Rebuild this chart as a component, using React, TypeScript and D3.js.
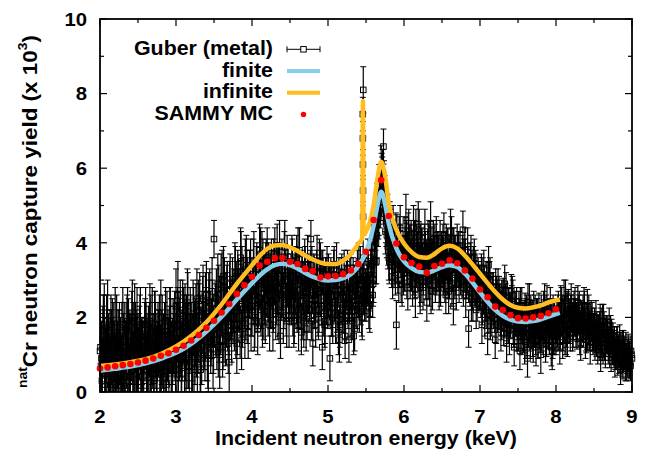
import React from 'react';
import * as d3 from 'd3';

const W = 646;
const H = 458;
const PLOT = { left: 100, right: 632, top: 19, bottom: 392 };

// Guber (metal) capture yield, channels every 0.025 keV starting at 2 keV
const guberStart = 2.0;
const guberStep = 0.025;
const guberYield = [
  1.1, 0.3, 1.5, 0.8, 1.9, 0.5, 1.2, 0.2, 1.6, 0.9,
  1.3, 0.6, 1.8, 0.1, 1.0, 1.5, 0.4, 2.0, 0.9, 1.2,
  0.7, 1.6, 1.1, 0.3, 1.9, 0.8, 1.4, 0.5, 1.2, 1.7,
  0.6, 1.3, 2.0, 0.9, 1.5, 0.2, 1.1, 1.8, 0.7, 1.4,
  2.3, 2.6, 1.6, 0.5, 1.9, 1.2, 2.4, 0.7, 1.5, 2.1,
  1.1, 2.5, 1.7, 0.6, 2.2, 1.4, 2.6, 0.9, 1.9, 2.7,
  4.1, 1.8, 2.9, 1.0, 2.3, 3.1, 1.5, 2.7, 0.8, 2.4,
  2.0, 3.2, 1.3, 2.8, 3.6, 1.9, 2.5, 3.4, 1.6, 3.0,
  2.2, 3.5, 2.7, 1.7, 3.8, 2.4, 3.1, 2.0, 3.6, 2.6,
  3.0, 1.8, 3.7, 2.5, 3.3, 1.5, 2.9, 3.6, 2.2, 3.2,
  2.6, 3.5, 1.9, 3.0, 2.4, 3.8, 1.6, 2.8, 3.3, 2.1,
  2.9, 4.1, 1.3, 2.5, 3.2, 2.0, 3.5, 1.2, 2.7, 3.0,
  2.3, 0.9, 2.9, 3.3, 1.9, 2.6, 1.4, 3.1, 2.2, 1.5,
  2.7, 1.4, 3.2, 2.4, 1.7, 3.0, 2.5, 3.4, 2.0, 3.1,
  2.4, 3.5, 2.1, 3.9, 3.0, 4.4, 5.0, 5.5, 6.0, 5.3,
  4.9, 4.2, 3.6, 4.3, 3.1, 3.8, 1.8, 3.4, 4.4, 2.9,
  3.6, 4.6, 2.8, 3.9, 3.3, 4.4, 2.6, 3.7, 4.2, 3.0,
  2.8, 4.3, 2.4, 3.9, 4.5, 2.7, 3.6, 4.2, 3.3, 4.0,
  3.4, 4.2, 2.6, 3.8, 3.1, 4.1, 2.3, 3.6, 3.9, 2.9,
  3.5, 4.35, 3.8, 3.0, 1.7, 3.4, 2.7, 3.6, 2.2, 3.1,
  2.9, 1.8, 3.3, 2.4, 1.5, 3.0, 2.2, 2.7, 1.4, 2.5,
  2.6, 1.6, 2.1, 2.9, 1.3, 2.3, 1.9, 2.6, 1.2, 2.0,
  1.8, 1.1, 2.3, 1.5, 2.0, 0.9, 2.4, 1.6, 1.3, 2.1,
  1.7, 2.2, 1.0, 1.9, 2.4, 1.4, 1.8, 2.3, 1.1, 2.0,
  1.5, 2.1, 1.2, 2.3, 1.8, 2.5, 1.4, 2.0, 2.4, 1.7,
  2.3, 1.6, 2.1, 1.3, 1.9, 2.2, 1.5, 1.8, 1.2, 1.9,
  1.6, 2.0, 1.2, 1.7, 1.4, 1.9, 1.1, 1.5, 1.8, 1.0,
  1.4, 0.8, 1.3, 1.1, 0.6, 1.2, 1.0, 0.7, 1.1, 0.8,
  0.9,
];
const guberErr = [
  1.0, 0.9, 1.1, 0.9, 1.1, 0.8, 1.0, 0.8, 1.2, 0.9,
  0.9, 0.8, 1.0, 0.7, 0.9, 1.0, 0.8, 1.0, 0.9, 1.0,
  0.8, 1.0, 0.9, 0.7, 0.9, 0.8, 1.0, 0.8, 0.9, 1.0,
  0.8, 0.9, 1.0, 0.8, 0.9, 0.7, 0.9, 1.0, 0.8, 0.9,
  1.0, 0.9, 0.9, 0.8, 0.9, 0.9, 0.9, 0.8, 0.9, 0.9,
  0.9, 0.8, 0.9, 0.8, 0.9, 0.8, 0.9, 0.9, 0.8, 0.9,
  0.5, 0.8, 0.8, 0.9, 0.8, 0.8, 0.8, 0.8, 0.8, 0.7,
  0.7, 0.8, 0.8, 0.7, 0.8, 0.7, 0.8, 0.8, 0.7, 0.8,
  0.7, 0.8, 0.7, 0.7, 0.7, 0.7, 0.7, 0.7, 0.8, 0.7,
  0.7, 0.7, 0.7, 0.7, 0.7, 0.6, 0.7, 0.7, 0.7, 0.7,
  0.6, 0.7, 0.7, 0.6, 0.7, 0.6, 0.6, 0.7, 0.6, 0.7,
  0.6, 0.5, 0.6, 0.6, 0.6, 0.6, 0.5, 0.6, 0.6, 0.6,
  0.6, 0.6, 0.5, 0.5, 0.6, 0.6, 0.6, 0.5, 0.6, 0.6,
  0.5, 0.6, 0.5, 0.5, 0.6, 0.5, 0.5, 0.5, 0.6, 0.5,
  0.5, 0.6, 0.5, 0.6, 0.6, 0.6, 0.6, 0.6, 0.6, 0.6,
  0.6, 0.6, 0.6, 0.6, 0.6, 0.6, 0.65, 0.6, 0.6, 0.6,
  0.6, 0.7, 0.6, 0.6, 0.6, 0.6, 0.6, 0.6, 0.7, 0.6,
  0.6, 0.6, 0.5, 0.6, 0.6, 0.5, 0.6, 0.5, 0.6, 0.6,
  0.6, 0.6, 0.5, 0.6, 0.6, 0.6, 0.5, 0.6, 0.6, 0.5,
  0.5, 0.5, 0.6, 0.5, 0.5, 0.6, 0.5, 0.5, 0.5, 0.5,
  0.5, 0.5, 0.5, 0.5, 0.5, 0.5, 0.5, 0.5, 0.5, 0.5,
  0.5, 0.5, 0.45, 0.5, 0.5, 0.5, 0.45, 0.5, 0.5, 0.5,
  0.5, 0.5, 0.5, 0.45, 0.5, 0.5, 0.5, 0.45, 0.5, 0.5,
  0.5, 0.45, 0.5, 0.5, 0.5, 0.45, 0.5, 0.5, 0.5, 0.5,
  0.5, 0.5, 0.45, 0.5, 0.5, 0.5, 0.45, 0.5, 0.5, 0.5,
  0.5, 0.45, 0.5, 0.45, 0.5, 0.5, 0.45, 0.5, 0.45, 0.5,
  0.45, 0.45, 0.45, 0.45, 0.45, 0.45, 0.45, 0.45, 0.45, 0.45,
  0.45, 0.4, 0.45, 0.4, 0.4, 0.45, 0.4, 0.4, 0.45, 0.4,
  0.4,
];
// interleaved channels at +1/4, +1/2 and +3/4 of a step; each shares the
// uncertainty of the main channel just below it
const guberYieldQ1 = [
  1.2, 0.5, 1.8, 0.9, 0.3, 1.4, 0.8, 1.6, 0.2, 1.0,
  1.5, 0.7, 1.1, 0.4, 1.7, 0.9, 1.3, 0.6, 2.0, 1.0,
  0.9, 1.8, 0.4, 1.2, 1.5, 0.7, 1.9, 1.0, 0.5, 1.4,
  1.1, 1.7, 0.5, 1.3, 0.8, 2.0, 0.6, 1.5, 1.0, 1.8,
  1.4, 0.6, 2.1, 1.1, 1.7, 0.9, 2.3, 1.3, 0.8, 1.9,
  1.6, 0.8, 2.0, 1.4, 2.5, 1.1, 1.8, 2.3, 1.3, 2.1,
  1.7, 2.5, 1.2, 2.2, 3.0, 1.6, 2.4, 1.9, 2.7, 1.5,
  2.3, 3.1, 1.8, 2.6, 3.5, 2.2, 1.7, 3.0, 2.4, 3.3,
  2.7, 1.9, 3.2, 2.4, 2.9, 3.6, 2.1, 3.3, 2.8, 1.8,
  3.4, 2.3, 2.8, 3.8, 2.0, 3.1, 2.7, 3.9, 1.9, 2.6,
  2.9, 3.4, 2.0, 2.6, 3.7, 2.3, 3.1, 1.9, 2.7, 3.5,
  2.5, 1.9, 3.1, 2.7, 3.6, 2.2, 2.8, 3.2, 1.8, 2.4,
  3.1, 2.4, 2.0, 3.4, 2.6, 2.9, 1.8, 3.2, 2.5, 2.0,
  3.3, 2.5, 2.0, 3.1, 2.7, 2.2, 3.5, 2.3, 2.9, 2.4,
  2.7, 3.2, 2.5, 3.4, 3.7, 4.0, 4.5, 5.0, 5.8, 5.1,
  4.3, 4.7, 3.5, 3.9, 4.4, 3.5, 4.1, 3.0, 3.9, 3.4,
  3.3, 3.9, 4.2, 3.1, 3.7, 3.2, 4.3, 3.5, 3.0, 3.8,
  3.2, 3.7, 3.3, 4.0, 2.7, 3.6, 3.9, 3.1, 3.6, 2.9,
  3.6, 3.3, 4.0, 3.1, 3.5, 2.9, 3.9, 3.2, 3.6, 3.3,
  3.3, 2.8, 3.5, 3.1, 2.9, 3.6, 2.4, 3.2, 2.8, 3.0,
  2.7, 2.3, 2.9, 2.2, 2.6, 3.1, 2.0, 2.4, 2.8, 2.1,
  2.4, 1.9, 2.6, 2.0, 2.3, 1.8, 2.2, 2.5, 1.7, 2.3,
  1.6, 2.3, 1.8, 2.0, 1.4, 2.4, 1.6, 1.9, 2.2, 1.5,
  2.0, 1.6, 2.1, 1.5, 1.8, 2.4, 1.7, 2.0, 1.4, 1.9,
  1.8, 2.2, 1.6, 2.0, 2.5, 1.5, 2.2, 1.8, 2.1, 1.9,
  2.0, 1.8, 2.2, 1.7, 2.1, 1.9, 1.6, 2.1, 1.7, 1.6,
  1.8, 1.4, 1.6, 1.9, 1.3, 1.7, 1.4, 1.6, 1.1, 1.5,
  1.2, 1.0, 1.3, 0.9, 1.2, 0.8, 1.1, 0.9, 1.0, 0.7,
];
const guberYieldQ2 = [
  0.7, 1.4, 0.2, 1.7, 1.0, 0.6, 1.5, 1.1, 0.4, 1.3,
  0.9, 1.6, 0.5, 1.2, 1.9, 0.3, 1.1, 1.4, 0.7, 1.8,
  1.3, 0.4, 1.0, 1.7, 0.6, 1.5, 0.9, 2.0, 0.3, 1.1,
  1.6, 0.8, 1.2, 0.4, 1.9, 1.0, 1.4, 0.5, 1.7, 1.2,
  0.9, 1.8, 1.3, 2.2, 0.8, 1.7, 1.0, 2.0, 1.2, 0.6,
  2.0, 1.3, 2.3, 1.0, 1.6, 2.4, 1.2, 2.1, 1.5, 1.0,
  2.1, 1.4, 2.6, 1.9, 1.2, 2.8, 2.0, 1.3, 2.9, 2.2,
  2.6, 1.7, 3.0, 2.3, 1.4, 2.9, 3.3, 2.1, 2.7, 1.9,
  2.9, 2.0, 3.3, 2.5, 3.7, 1.9, 2.8, 3.4, 2.3, 3.1,
  2.4, 3.4, 2.1, 2.8, 3.9, 2.6, 2.0, 3.1, 3.5, 1.9,
  3.1, 2.2, 2.7, 3.6, 1.8, 2.9, 3.2, 2.3, 1.7, 3.0,
  2.2, 3.4, 2.6, 1.8, 2.9, 3.5, 2.3, 2.8, 1.9, 3.3,
  2.6, 3.0, 1.8, 2.4, 3.4, 1.6, 2.7, 2.1, 3.2, 2.8,
  2.2, 3.0, 2.6, 1.5, 2.8, 3.3, 2.1, 2.9, 3.6, 2.6,
  3.0, 2.3, 3.3, 2.6, 4.1, 3.5, 4.7, 5.2, 5.7, 5.6,
  4.6, 3.9, 4.5, 3.4, 4.0, 3.2, 3.6, 4.1, 3.0, 3.7,
  4.1, 3.2, 4.3, 3.5, 2.9, 4.0, 3.4, 4.5, 2.8, 3.6,
  3.5, 3.1, 3.8, 2.9, 3.4, 4.1, 3.0, 3.7, 2.8, 3.5,
  3.9, 3.0, 3.5, 2.7, 4.3, 3.3, 3.7, 2.8, 3.4, 3.8,
  3.0, 3.6, 2.6, 3.9, 3.2, 2.5, 3.4, 2.9, 2.4, 2.7,
  2.5, 3.1, 2.0, 2.7, 3.4, 1.9, 2.6, 2.3, 1.8, 2.8,
  2.2, 2.5, 1.7, 2.4, 2.0, 1.5, 2.7, 1.8, 2.2, 1.6,
  2.2, 1.5, 1.9, 1.2, 2.1, 1.7, 1.4, 2.0, 1.8, 1.2,
  1.4, 1.9, 1.6, 2.2, 1.3, 2.0, 1.5, 1.2, 2.1, 1.6,
  2.0, 1.6, 2.4, 1.4, 2.1, 1.7, 2.3, 1.6, 1.9, 2.2,
  1.7, 2.4, 1.5, 2.0, 1.7, 1.4, 2.3, 1.6, 2.0, 1.5,
  1.3, 1.7, 1.5, 1.0, 1.9, 1.3, 1.6, 1.2, 1.4, 1.3,
  1.1, 1.2, 0.9, 1.4, 1.0, 1.2, 0.7, 1.0, 0.8, 1.1,
];
const guberYieldQ3 = [
  0.9, 1.7, 0.6, 1.3, 0.4, 1.8, 1.0, 0.7, 1.4, 0.5,
  1.1, 0.3, 1.4, 1.7, 0.8, 1.2, 1.9, 0.6, 1.5, 0.8,
  1.5, 1.0, 0.6, 1.8, 1.2, 0.4, 1.6, 0.9, 1.8, 0.6,
  1.4, 0.9, 1.6, 1.2, 0.7, 1.5, 1.9, 0.9, 1.3, 0.6,
  1.8, 1.2, 0.7, 1.6, 2.0, 1.0, 1.5, 1.8, 0.9, 1.5,
  1.3, 2.2, 0.9, 1.9, 1.5, 2.0, 1.0, 2.4, 1.7, 1.4,
  2.4, 1.9, 1.6, 2.8, 1.4, 2.1, 2.6, 1.8, 2.2, 2.9,
  1.8, 2.7, 2.5, 1.6, 3.1, 2.6, 2.2, 2.8, 3.1, 2.3,
  3.4, 2.6, 2.3, 3.0, 2.2, 3.4, 2.5, 2.9, 3.2, 2.4,
  2.7, 3.1, 3.3, 2.2, 2.9, 3.5, 2.4, 2.6, 3.0, 2.8,
  2.4, 2.8, 3.2, 2.2, 3.0, 2.6, 2.0, 3.4, 2.5, 2.8,
  3.2, 2.6, 2.3, 3.0, 2.1, 2.7, 3.3, 2.1, 3.0, 2.6,
  2.8, 2.1, 3.0, 2.7, 2.2, 3.0, 2.4, 2.6, 1.9, 2.9,
  2.4, 2.8, 1.9, 2.9, 2.3, 2.6, 3.0, 2.0, 2.7, 2.8,
  2.9, 2.6, 3.6, 2.9, 3.5, 4.2, 4.8, 5.4, 5.9, 5.2,
  4.5, 4.0, 4.1, 3.6, 3.4, 4.2, 3.3, 3.8, 3.5, 3.2,
  3.8, 3.6, 3.4, 4.0, 3.6, 3.1, 3.9, 3.3, 3.8, 3.4,
  3.9, 3.4, 3.0, 3.5, 3.8, 3.2, 3.4, 3.8, 3.0, 3.7,
  3.2, 3.7, 3.1, 3.6, 3.3, 3.8, 3.0, 3.4, 3.7, 3.1,
  3.7, 3.2, 3.1, 3.4, 2.8, 3.2, 3.0, 3.3, 2.7, 2.9,
  3.2, 2.6, 2.5, 3.0, 2.1, 2.7, 2.4, 2.1, 2.6, 2.2,
  2.0, 2.3, 1.9, 2.7, 1.8, 2.1, 2.4, 1.7, 2.0, 1.9,
  2.0, 1.8, 1.6, 2.2, 1.7, 1.9, 2.1, 1.4, 1.7, 2.0,
  1.8, 1.5, 1.9, 1.7, 2.1, 1.6, 2.0, 1.9, 1.5, 1.8,
  1.7, 1.9, 2.0, 1.6, 1.5, 2.2, 1.8, 2.1, 1.6, 2.0,
  1.9, 2.0, 1.7, 1.8, 2.3, 1.6, 1.9, 1.7, 1.8, 1.6,
  1.5, 1.6, 1.3, 1.8, 1.2, 1.6, 1.5, 1.3, 1.6, 1.2,
  1.3, 1.0, 1.1, 1.2, 0.8, 1.0, 1.2, 0.8, 0.9, 1.0,
];
// additional points on the narrow 5.46 keV resonance and the 5.7 keV peak
const guberExtraE = [5.458, 5.459, 5.46, 5.461, 5.462, 5.464, 5.73];
const guberExtraY = [7.45, 6.8, 6.1, 5.4, 4.7, 8.1, 6.58];
const guberExtraErr = [0.45, 0.45, 0.4, 0.4, 0.4, 0.62, 0.47];

// finite-sample calculation
const finiteE = [
  2.0, 2.2, 2.4, 2.6, 2.8, 3.0, 3.2, 3.4, 3.6, 3.8, 4.0, 4.1, 4.2, 4.3, 4.4, 4.5,
  4.6, 4.7, 4.8, 4.9, 5.0, 5.1, 5.2, 5.3, 5.4, 5.5, 5.6, 5.65, 5.7, 5.75, 5.8,
  5.9, 6.0, 6.1, 6.2, 6.3, 6.4, 6.5, 6.6, 6.7, 6.8, 6.9, 7.0, 7.1, 7.2, 7.3,
  7.4, 7.5, 7.6, 7.7, 7.8, 7.9, 8.05,
];
const finiteY = [
  0.57, 0.62, 0.68, 0.77, 0.89, 1.05, 1.29, 1.62, 2.02, 2.48, 2.92, 3.12, 3.29,
  3.4, 3.44, 3.4, 3.31, 3.19, 3.09, 3.02, 2.99, 3.0, 3.05, 3.16, 3.38, 3.75,
  4.45, 5.0, 5.37, 5.05, 4.5, 3.85, 3.5, 3.32, 3.22, 3.2, 3.26, 3.35, 3.4, 3.35,
  3.18, 2.94, 2.67, 2.42, 2.2, 2.04, 1.94, 1.89, 1.88, 1.9, 1.95, 2.02, 2.12,
];

// infinite-sample calculation
const infiniteE = [
  2.0, 2.2, 2.4, 2.6, 2.8, 3.0, 3.2, 3.4, 3.6, 3.8, 4.0, 4.1, 4.2, 4.3, 4.4, 4.5,
  4.6, 4.7, 4.8, 4.9, 5.0, 5.1, 5.2, 5.3, 5.4, 5.45, 5.46, 5.47, 5.5, 5.6, 5.65,
  5.7, 5.75, 5.8, 5.9, 6.0, 6.1, 6.2, 6.3, 6.4, 6.5, 6.6, 6.7, 6.8, 6.9, 7.0,
  7.1, 7.2, 7.3, 7.4, 7.5, 7.6, 7.7, 7.8, 7.9, 8.05,
];
const infiniteY = [
  0.7, 0.74, 0.8, 0.88, 1.02, 1.22, 1.5, 1.87, 2.35, 2.9, 3.4, 3.65, 3.84, 3.93,
  3.94, 3.88, 3.78, 3.66, 3.55, 3.47, 3.43, 3.43, 3.52, 3.7, 3.98, 4.12, 7.8,
  4.22, 4.3, 5.0, 5.7, 6.17, 5.8, 5.05, 4.35, 3.98, 3.75, 3.62, 3.6, 3.7, 3.85,
  3.92, 3.85, 3.66, 3.42, 3.17, 2.92, 2.68, 2.48, 2.33, 2.26, 2.24, 2.27, 2.32,
  2.4, 2.48,
];

// SAMMY Monte Carlo points, every 0.1 keV from 2 keV
const sammyStart = 2.0;
const sammyStep = 0.1;
const sammyY = [
  0.63, 0.66, 0.69, 0.72, 0.75, 0.79, 0.84, 0.9, 0.97, 1.04,
  1.13, 1.24, 1.38, 1.53, 1.72, 1.91, 2.13, 2.36, 2.63, 2.86,
  3.09, 3.39, 3.49, 3.59, 3.59, 3.49, 3.43, 3.3, 3.24, 3.07,
  3.1, 3.11, 3.16, 3.26, 3.43, 3.76, 4.61, 5.68, 4.72, 3.98,
  3.61, 3.46, 3.36, 3.2, 3.38, 3.44, 3.53, 3.45, 3.26, 3.04,
  2.75, 2.54, 2.29, 2.2, 2.06, 1.98, 1.97, 2.0, 2.04, 2.11,
  2.22,
];

const xMajor = [2, 3, 4, 5, 6, 7, 8, 9];
const xMinor = [2.5, 3.5, 4.5, 5.5, 6.5, 7.5, 8.5];
const yMajor = [0, 2, 4, 6, 8, 10];
const yMinor = [1, 3, 5, 7, 9];

const legendLabels = ['Guber (metal)', 'finite', 'infinite', 'SAMMY MC'];

const ORANGE = '#ffbd22';
const BLUE = '#87ceeb';
const RED = '#ff0000';
const FONT = "'Liberation Sans', Arial, Helvetica, sans-serif";
const STRETCH = 1.07;

function StretchText(props: {
  x: number;
  y: number;
  size: number;
  anchor?: 'start' | 'middle' | 'end';
  rotate?: number;
  children: React.ReactNode;
}) {
  const { x, y, size, anchor = 'start', rotate = 0, children } = props;
  return (
    <text
      transform={`translate(${x},${y}) rotate(${rotate}) scale(${STRETCH},1)`}
      fontFamily={FONT}
      fontWeight="bold"
      fontSize={size}
      textAnchor={anchor}
      fill="#000"
    >
      {children}
    </text>
  );
}

type Pt = { e: number; v: number; err: number };

export default function App() {
  const x = d3.scaleLinear().domain([2, 9]).range([PLOT.left, PLOT.right]);
  const y = d3.scaleLinear().domain([0, 10]).range([PLOT.bottom, PLOT.top]);

  const guber: Pt[] = guberYield.map((v, i) => ({
    e: guberStart + i * guberStep,
    v,
    err: guberErr[i],
  }));
  const sub: [number[], number][] = [
    [guberYieldQ1, 0.25],
    [guberYieldQ2, 0.5],
    [guberYieldQ3, 0.75],
  ];
  sub.forEach(([vals, off]) =>
    vals.forEach((v, i) =>
      guber.push({ e: guberStart + (i + off) * guberStep, v, err: guberErr[i] })
    )
  );
  guberExtraE.forEach((e, i) =>
    guber.push({ e, v: guberExtraY[i], err: guberExtraErr[i] })
  );

  const sammy = sammyY.map((v, i) => ({ e: sammyStart + i * sammyStep, v }));

  const line = d3
    .line<[number, number]>()
    .x((d) => x(d[0]))
    .y((d) => y(d[1]))
    .curve(d3.curveMonotoneX);

  const finitePath = line(finiteE.map((e, i) => [e, finiteY[i]] as [number, number])) || '';
  const infinitePath = line(infiniteE.map((e, i) => [e, infiniteY[i]] as [number, number])) || '';

  const sq = 5.5;
  const cap = 3;

  const legendX0 = 287;
  const legendX1 = 320;
  const legendTextX = 273;
  const legendBase = 55;
  const legendGap = 21.7;

  return (
    <svg
      width={W}
      height={H}
      viewBox={`0 0 ${W} ${H}`}
      style={{ position: 'absolute', left: 0, top: 0, background: '#fff' }}
    >
      <defs>
        <clipPath id="plotClip">
          <rect
            x={PLOT.left}
            y={PLOT.top}
            width={PLOT.right - PLOT.left}
            height={PLOT.bottom - PLOT.top}
          />
        </clipPath>
      </defs>
      <rect x={0} y={0} width={W} height={H} fill="#fff" />

      {/* measured data: error bars (clipped) and open squares */}
      <g clipPath="url(#plotClip)" stroke="#000" fill="none">
        {guber.map((d, i) => {
          const cx = x(d.e);
          const y0 = y(d.v - d.err);
          const y1 = y(d.v + d.err);
          return (
            <g key={i}>
              <line x1={cx} x2={cx} y1={y0} y2={y1} strokeWidth={1.2} />
              <line x1={cx - cap} x2={cx + cap} y1={y0} y2={y0} strokeWidth={1} />
              <line x1={cx - cap} x2={cx + cap} y1={y1} y2={y1} strokeWidth={1} />
            </g>
          );
        })}
      </g>
      <g stroke="#000" strokeWidth={1} fill="none">
        {guber.map((d, i) => (
          <rect key={i} x={x(d.e) - sq / 2} y={y(d.v) - sq / 2} width={sq} height={sq} />
        ))}
      </g>

      {/* model curves */}
      <path d={finitePath} fill="none" stroke={BLUE} strokeWidth={4.5} strokeLinejoin="round" />
      <path d={infinitePath} fill="none" stroke={ORANGE} strokeWidth={4.5} strokeLinejoin="round" />

      {/* SAMMY MC */}
      <g fill={RED}>
        {sammy.map((d, i) => (
          <circle key={i} cx={x(d.e)} cy={y(d.v)} r={3.3} />
        ))}
      </g>

      {/* frame and ticks */}
      <g stroke="#000" strokeWidth={1.2}>
        {xMajor.map((t) => (
          <g key={'xM' + t}>
            <line x1={x(t)} x2={x(t)} y1={PLOT.bottom} y2={PLOT.bottom - 7} />
            <line x1={x(t)} x2={x(t)} y1={PLOT.top} y2={PLOT.top + 7} />
          </g>
        ))}
        {xMinor.map((t) => (
          <g key={'xm' + t}>
            <line x1={x(t)} x2={x(t)} y1={PLOT.bottom} y2={PLOT.bottom - 4} />
            <line x1={x(t)} x2={x(t)} y1={PLOT.top} y2={PLOT.top + 4} />
          </g>
        ))}
        {yMajor.map((t) => (
          <g key={'yM' + t}>
            <line x1={PLOT.left} x2={PLOT.left + 7} y1={y(t)} y2={y(t)} />
            <line x1={PLOT.right} x2={PLOT.right - 7} y1={y(t)} y2={y(t)} />
          </g>
        ))}
        {yMinor.map((t) => (
          <g key={'ym' + t}>
            <line x1={PLOT.left} x2={PLOT.left + 4} y1={y(t)} y2={y(t)} />
            <line x1={PLOT.right} x2={PLOT.right - 4} y1={y(t)} y2={y(t)} />
          </g>
        ))}
      </g>
      <rect
        x={PLOT.left}
        y={PLOT.top}
        width={PLOT.right - PLOT.left}
        height={PLOT.bottom - PLOT.top}
        fill="none"
        stroke="#000"
        strokeWidth={1.8}
      />

      {/* tick labels */}
      {xMajor.map((t) => (
        <StretchText key={'xl' + t} x={x(t)} y={423} size={19} anchor="middle">
          {t}
        </StretchText>
      ))}
      {yMajor.map((t) => (
        <StretchText key={'yl' + t} x={87} y={y(t) + 6.7} size={19} anchor="end">
          {t}
        </StretchText>
      ))}

      {/* axis titles */}
      <StretchText x={(PLOT.left + PLOT.right) / 2} y={445} size={20} anchor="middle">
        Incident neutron energy (keV)
      </StretchText>
      <StretchText x={36.7} y={211.5} size={21} anchor="middle" rotate={-90}>
        <tspan fontSize={13} dy={-10}>nat</tspan>
        <tspan dy={10}>Cr neutron capture yield (x 10</tspan>
        <tspan fontSize={13} dy={-10}>3</tspan>
        <tspan dy={10}>)</tspan>
      </StretchText>

      {/* legend */}
      {legendLabels.map((lab, i) => (
        <StretchText key={lab} x={legendTextX} y={legendBase + i * legendGap} size={20} anchor="end">
          {lab}
        </StretchText>
      ))}
      <g stroke="#000" strokeWidth={1} fill="none">
        <line x1={legendX0} x2={legendX1} y1={legendBase - 5.7} y2={legendBase - 5.7} />
        <line x1={legendX0} x2={legendX0} y1={legendBase - 8.7} y2={legendBase - 2.7} />
        <line x1={legendX1} x2={legendX1} y1={legendBase - 8.7} y2={legendBase - 2.7} />
        <rect
          x={(legendX0 + legendX1) / 2 - sq / 2}
          y={legendBase - 5.7 - sq / 2}
          width={sq}
          height={sq}
          fill="#fff"
        />
      </g>
      <line
        x1={legendX0}
        x2={legendX1}
        y1={legendBase + legendGap - 5.7}
        y2={legendBase + legendGap - 5.7}
        stroke={BLUE}
        strokeWidth={4}
      />
      <line
        x1={legendX0}
        x2={legendX1}
        y1={legendBase + 2 * legendGap - 5.7}
        y2={legendBase + 2 * legendGap - 5.7}
        stroke={ORANGE}
        strokeWidth={4}
      />
      <circle
        cx={(legendX0 + legendX1) / 2}
        cy={legendBase + 3 * legendGap - 5.7}
        r={2.7}
        fill={RED}
      />
    </svg>
  );
}
